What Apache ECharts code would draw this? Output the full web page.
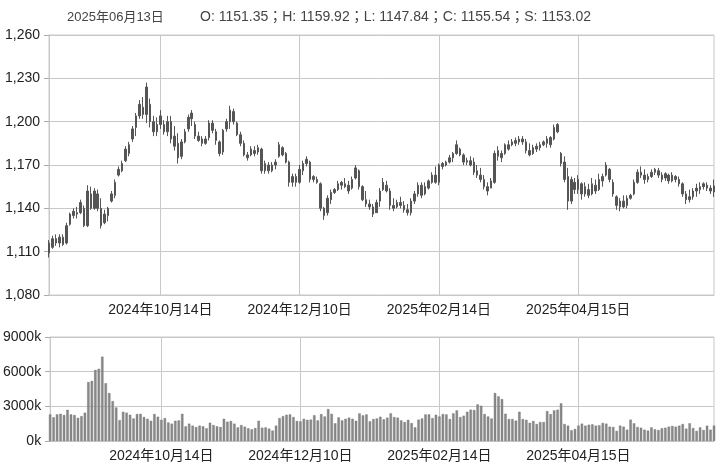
<!DOCTYPE html>
<html><head><meta charset="utf-8">
<script src="https://cdn.jsdelivr.net/npm/echarts@6/dist/echarts.min.js"></script>
<style>html,body{margin:0;padding:0;background:#fff}#c{width:721px;height:467px}</style>
</head><body><div id="c"></div>
<script>
// [open, close, low, high]
const candles = [
[1116,1109,1106,1118],[1113,1119,1112,1121],[1119,1116,1114,1122],[1116,1120,1113,1122],[1120,1115,1114,1122],
[1116,1128,1115,1130],[1129,1136,1128,1137],[1135,1138,1133,1140],[1137,1136,1133,1141],[1137,1144,1136,1146],
[1140,1128,1127,1142],[1128,1152,1127,1156],[1150,1140,1139,1155],[1140,1152,1139,1154],[1150,1140,1138,1153],
[1140,1128,1126,1147],[1130,1136,1129,1139],[1135,1140,1131,1141],[1145,1150,1144,1152],[1149,1158,1147,1160],
[1163,1167,1162,1169],[1166,1171,1165,1173],[1173,1181,1172,1183],[1178,1184,1176,1186],[1188,1195,1186,1197],
[1196,1204,1190,1206],[1204,1212,1202,1215],[1210,1205,1202,1217],[1205,1224,1199,1227],[1212,1200,1196,1216],
[1200,1193,1190,1204],[1193,1198,1190,1203],[1198,1204,1195,1208],
[1198,1193,1191,1201],[1193,1200,1190,1204],[1200,1188,1185,1204],[1190,1183,1180,1197],[1185,1175,1171,1192],
[1176,1186,1174,1188],[1186,1193,1185,1195],[1195,1203,1193,1205],[1202,1206,1197,1208],[1198,1190,1188,1200],
[1190,1187,1186,1193],[1188,1185,1183,1190],[1185,1188,1184,1190],[1189,1199,1187,1201],[1199,1194,1192,1201],
[1193,1187,1184,1195],[1186,1178,1176,1187],[1179,1194,1177,1195],[1195,1200,1193,1202],[1200,1208,1195,1211],
[1207,1200,1198,1209],[1199,1191,1190,1200],[1191,1185,1183,1193],[1185,1177,1176,1187],[1177,1175,1173,1179],
[1177,1181,1176,1183],[1180,1178,1176,1183],[1179,1182,1177,1184],[1181,1166,1164,1182],[1166,1171,1164,1173],
[1170,1166,1164,1172],[1166,1170,1165,1172],
[1170,1172,1167,1174],[1176,1184,1175,1186],[1182,1177,1176,1183],[1178,1172,1171,1179],[1172,1158,1155,1173],
[1158,1162,1155,1164],[1162,1158,1155,1164],[1158,1167,1157,1170],[1166,1171,1163,1173],[1171,1174,1169,1176],
[1172,1160,1158,1173],[1162,1160,1158,1163],[1160,1158,1157,1162],[1157,1140,1138,1158],[1140,1135,1132,1141],
[1137,1147,1135,1149],[1146,1151,1143,1153],[1151,1153,1150,1154],[1153,1157,1152,1159],[1156,1158,1153,1159],
[1157,1155,1154,1161],[1156,1152,1150,1159],[1154,1160,1153,1162],[1161,1168,1160,1170],[1166,1155,1153,1167],
[1155,1146,1145,1156],[1146,1143,1141,1152],[1143,1141,1139,1146],[1141,1136,1134,1143],[1137,1144,1137,1146],
[1145,1152,1141,1154],[1153,1158,1152,1161],
[1156,1152,1151,1159],[1152,1142,1139,1154],[1142,1140,1138,1147],[1141,1144,1140,1146],[1144,1142,1140,1148],
[1142,1139,1137,1145],[1139,1137,1135,1143],[1137,1145,1135,1147],[1145,1150,1143,1152],[1150,1156,1148,1158],
[1156,1149,1147,1158],[1150,1155,1149,1158],[1154,1159,1153,1160],[1158,1163,1157,1165],[1163,1158,1157,1169],
[1158,1170,1156,1171],[1169,1171,1167,1172],[1170,1172,1169,1173],[1172,1175,1171,1177],[1175,1178,1172,1179],
[1178,1184,1177,1187],[1181,1177,1176,1182],[1177,1172,1170,1178],[1172,1173,1170,1175],[1173,1170,1169,1176],
[1172,1165,1163,1175],[1166,1163,1161,1170],[1163,1160,1158,1168],[1160,1155,1153,1163],[1155,1152,1149,1158],
[1154,1159,1154,1161],[1158,1178,1157,1180],
[1176,1180,1173,1183],[1178,1175,1172,1180],[1178,1184,1177,1185],[1181,1184,1180,1187],[1184,1186,1183,1188],
[1185,1187,1183,1189],[1186,1188,1184,1190],[1188,1186,1184,1190],[1186,1180,1178,1188],[1180,1177,1176,1185],
[1178,1182,1177,1184],[1181,1183,1179,1185],[1182,1184,1180,1186],[1184,1186,1183,1187],[1185,1188,1182,1190],
[1184,1189,1182,1190],[1188,1196,1187,1198],[1193,1198,1192,1199],[1178,1171,1169,1179],[1172,1160,1158,1176],
[1162,1145,1139,1168],[1145,1160,1143,1162],[1158,1153,1150,1161],[1153,1160,1150,1163],[1157,1150,1146,1158],
[1150,1155,1148,1158],[1153,1149,1147,1157],[1150,1157,1149,1161],[1156,1152,1150,1160],[1153,1160,1152,1164],
[1159,1162,1155,1164],[1163,1170,1162,1172],
[1167,1160,1158,1168],[1158,1150,1148,1160],[1148,1142,1139,1149],[1141,1145,1138,1147],[1145,1141,1140,1149],
[1142,1147,1140,1149],[1147,1149,1146,1150],[1150,1158,1149,1160],[1158,1165,1157,1167],[1165,1163,1161,1169],
[1163,1160,1157,1167],[1160,1162,1158,1164],[1162,1165,1161,1167],[1165,1167,1163,1168],[1166,1163,1161,1168],
[1163,1160,1158,1165],[1161,1164,1159,1165],[1163,1159,1157,1164],[1159,1163,1158,1165],[1162,1160,1158,1163],
[1160,1157,1155,1162],[1157,1150,1148,1158],[1150,1146,1143,1152],[1146,1148,1144,1153],[1148,1152,1146,1154],
[1152,1154,1148,1157],[1153,1155,1150,1158],[1155,1157,1153,1158],[1156,1154,1152,1158],[1154,1152,1150,1156],
[1151.35,1155.54,1147.84,1159.92]
];
// volume in thousands
const volumes = [
2300,2050,2300,2350,2250,2700,2300,2250,2000,2150,2450,
5100,5200,6150,6250,7300,5000,4150,3450,2900,1800,
2530,2450,2270,1950,2330,2350,2070,1920,1750,2330,2100,1830,1980,1600,1500,1750,1780,2350,1270,1500,
1330,1210,1330,1270,1100,1580,1380,1270,1210,1920,1670,1730,1500,1180,1380,1240,1100,1010,1120,1750,
1150,1180,1070,900,1330,1980,2150,2270,2300,2070,1730,1700,1920,1830,1850,2230,1780,2330,2120,2760,
2350,1530,2040,1780,1920,2020,1920,1750,2390,
2220,2300,1700,1900,1950,2100,1880,2020,2390,2070,2020,1780,1640,1830,1550,1180,1850,1950,2300,2300,
1980,2270,2120,2330,2300,1900,2390,2650,2070,2190,2530,2710,2680,3170,3050,2330,2120,1950,4150,3860,
3630,2360,1900,1900,1760,2530,1900,1830,1570,1730,1470,1640,1640,2590,2330,2650,2710,3260,1470,1330,
930,1040,1330,1500,1330,1410,1440,1330,1360,1560,1500,1240,1210,870,1330,1240,980,1850,1530,1210,
1150,980,900,1180,1010,950,1100,1150,1240,1300,1240,1330,1470,1070,1530,1120,870,1180,950,1330,
980,1330
];
const tickLabels = ['2024年10月14日','2024年12月10日','2025年02月14日','2025年04月15日'];
const tickIndex = [32,72,112,152];
const headerDate = '2025年06月13日';
const sma = 1153.02;

const categories = candles.map((_, i) => {
  const k = tickIndex.indexOf(i);
  return k >= 0 ? tickLabels[k] : String(i);
});
const last = candles[candles.length - 1];
const headerText = 'O: ' + last[0].toFixed(2) + '；H: ' + last[3].toFixed(2) + '；L: ' + last[2].toFixed(2) +
  '；C: ' + last[1].toFixed(2) + '；S: ' + sma.toFixed(2);

const FONT = '"Liberation Sans", Arial, "Noto Sans CJK JP", sans-serif';
const isTick = (i) => tickIndex.indexOf(i) >= 0;
const comma = (v) => String(v).replace(/\B(?=(\d{3})+(?!\d))/g, ',');

function xAxis(gridIndex) {
  return {
    type: 'category', gridIndex, data: categories, boundaryGap: false,
    axisLine: { show: true, lineStyle: { color: '#c8c8c8' } },
    axisTick: { show: false },
    axisLabel: { interval: (i) => isTick(i), color: '#222', fontSize: 14, fontFamily: FONT, margin: 8 },
    splitLine: { show: true, interval: (i) => isTick(i), lineStyle: { color: '#c8c8c8', width: 1 } }
  };
}

const chart = echarts.init(document.getElementById('c'), null, { renderer: 'canvas' });
chart.setOption({
  animation: false,
  backgroundColor: '#fff',
  title: [
    { text: headerDate, left: 62, top: 6, textStyle: { fontSize: 13, fontWeight: 'normal', color: '#444', fontFamily: FONT } },
    { text: headerText, left: 195, top: 5, textStyle: { fontSize: 14, fontWeight: 'normal', color: '#444', fontFamily: FONT } }
  ],
  grid: [
    { left: 49, top: 35, width: 665, height: 260, show: true, borderColor: '#c8c8c8', borderWidth: 1 },
    { left: 49, top: 337, width: 665, height: 104, show: true, borderColor: '#c8c8c8', borderWidth: 1 }
  ],
  xAxis: [xAxis(0), xAxis(1)],
  yAxis: [
    {
      type: 'value', gridIndex: 0, min: 1080, max: 1260, interval: 30,
      axisLine: { show: true, lineStyle: { color: '#c8c8c8' } },
      axisTick: { show: true, length: 5, lineStyle: { color: '#aaa' } },
      axisLabel: { formatter: (v) => comma(v), color: '#222', fontSize: 14, fontFamily: FONT, margin: 9 },
      splitLine: { lineStyle: { color: '#c8c8c8' } }
    },
    {
      type: 'value', gridIndex: 1, min: 0, max: 9000, interval: 3000,
      axisLine: { show: true, lineStyle: { color: '#c8c8c8' } },
      axisTick: { show: true, length: 5, lineStyle: { color: '#aaa' } },
      axisLabel: { formatter: (v) => v + 'k', color: '#222', fontSize: 14, fontFamily: FONT, margin: 9 },
      splitLine: { lineStyle: { color: '#c8c8c8' } }
    }
  ],
  series: [
    {
      type: 'candlestick', xAxisIndex: 0, yAxisIndex: 0, data: candles, large: false, clip: false,
      barWidth: 2,
      itemStyle: { color: '#555', color0: '#555', borderColor: '#555', borderColor0: '#555', borderWidth: 1 }
    },
    {
      type: 'bar', xAxisIndex: 1, yAxisIndex: 1, data: volumes, barWidth: 2.4,
      itemStyle: { color: '#8a8a8a', borderColor: '#707070', borderWidth: 0.4 }
    }
  ]
});
</script>
</body></html>
